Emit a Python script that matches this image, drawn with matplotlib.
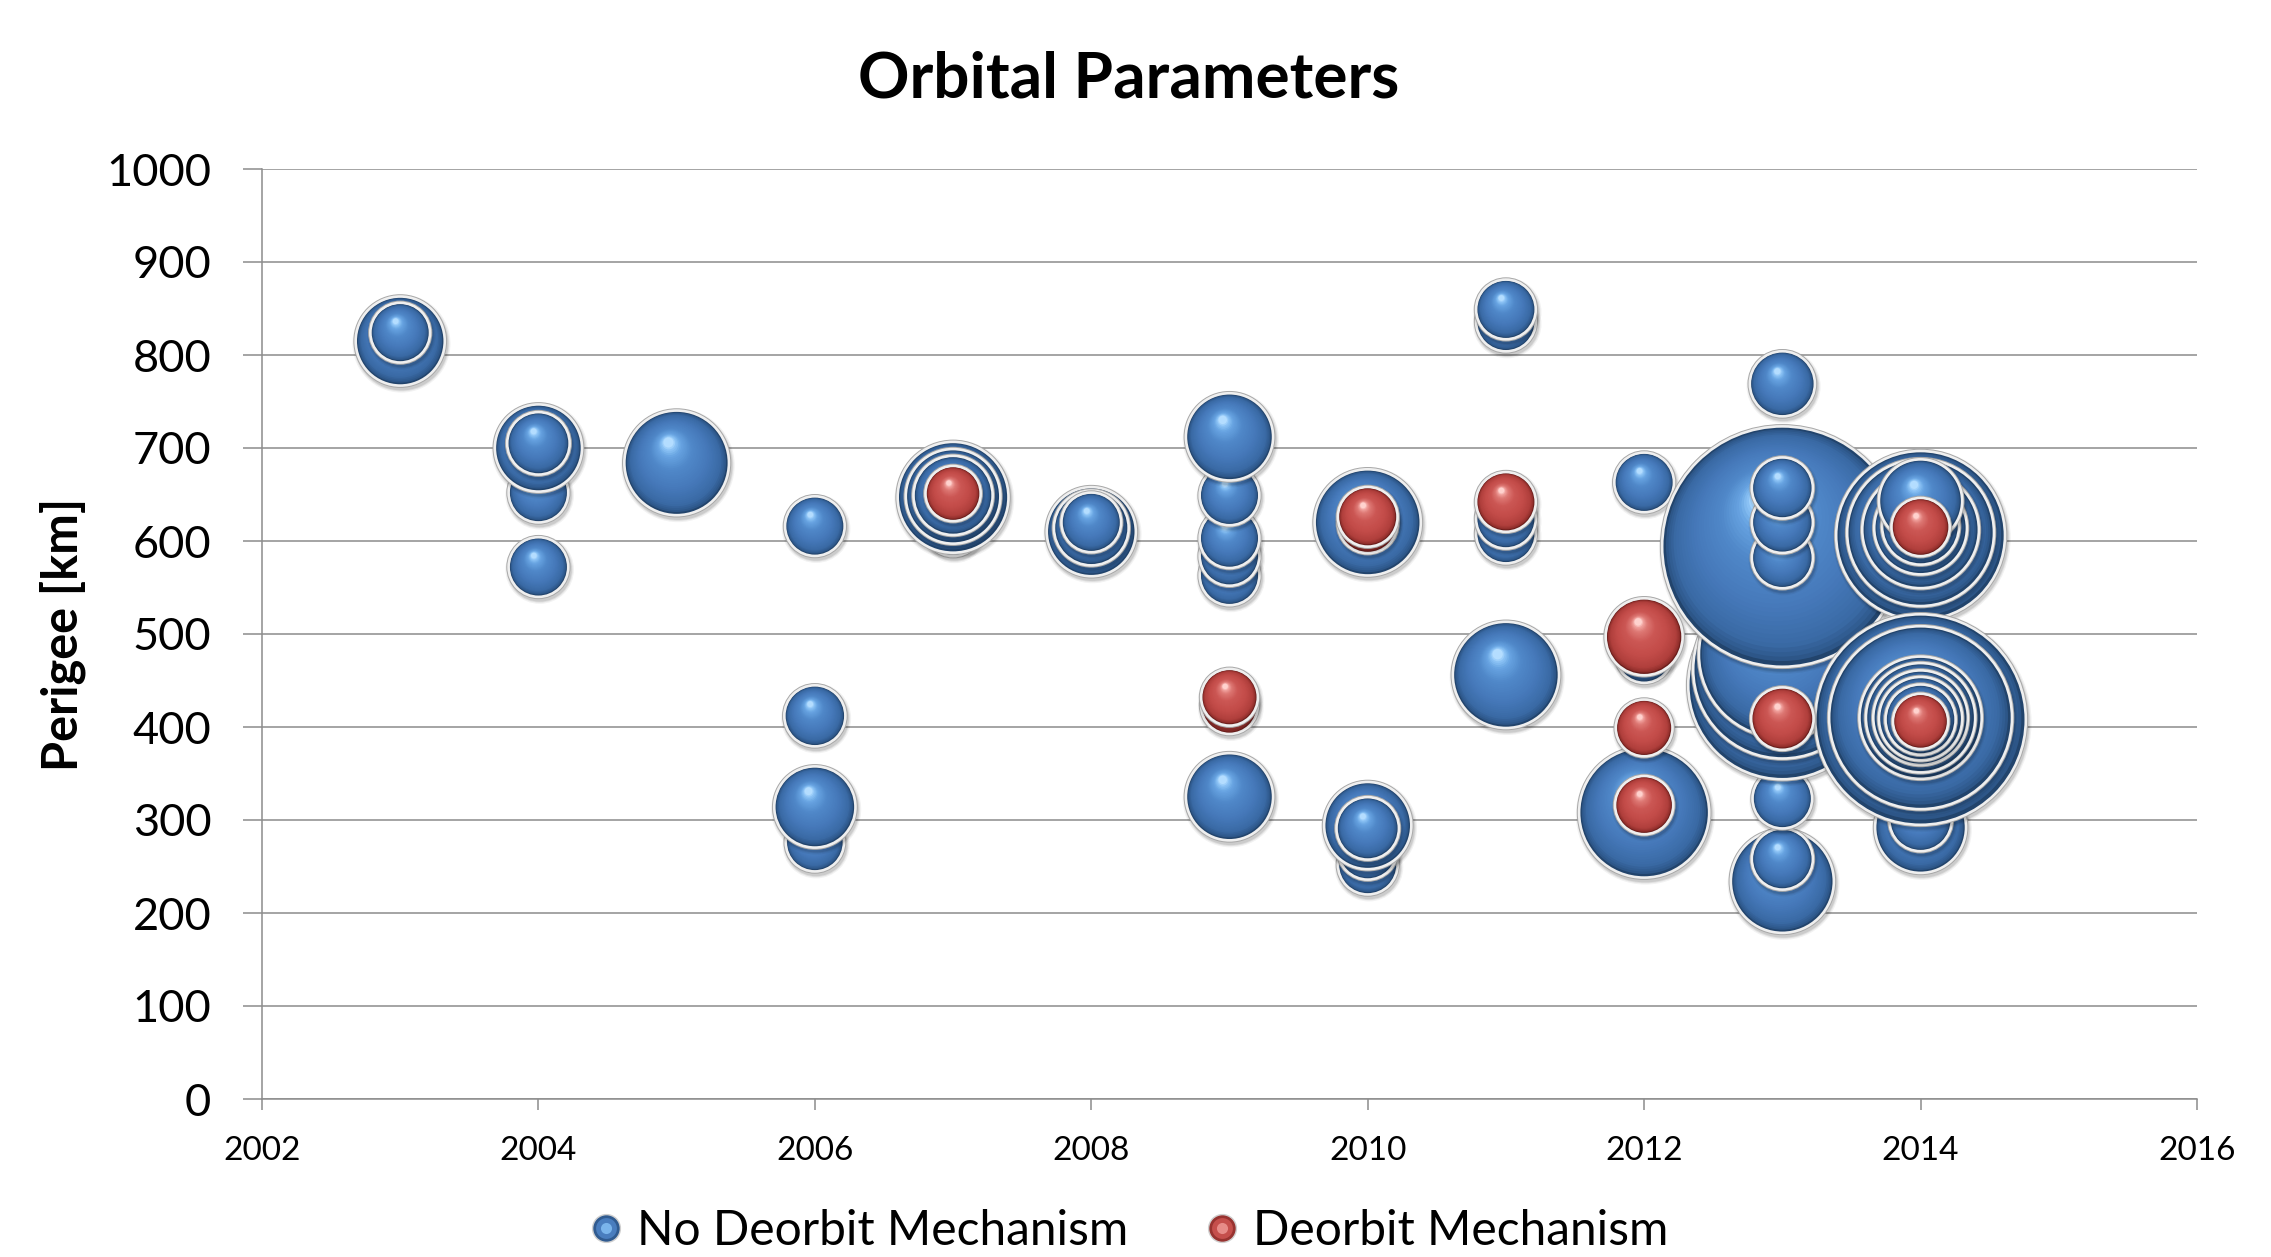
import numpy as np
import matplotlib
matplotlib.use("Agg")
import matplotlib.pyplot as plt
import matplotlib.transforms as mtransforms
from matplotlib.colors import LinearSegmentedColormap, to_rgba
from matplotlib.lines import Line2D
from matplotlib.legend_handler import HandlerTuple

plt.rcParams['font.family'] = ['Lato', 'DejaVu Sans']

# ---------------- data ----------------
title = "Orbital Parameters"
y_label = "Perigee [km]"
series_names = ["No Deorbit Mechanism", "Deorbit Mechanism"]
x_ticks = [2002, 2004, 2006, 2008, 2010, 2012, 2014, 2016]
y_ticks = [0, 100, 200, 300, 400, 500, 600, 700, 800, 900, 1000]

# listed in drawing order (later entries are drawn on top)
blue_year = [2003, 2003,
             2004, 2004, 2004, 2004,
             2005,
             2006, 2006, 2006, 2006,
             2007, 2007, 2007, 2007,
             2008, 2008, 2008,
             2009, 2009, 2009, 2009, 2009, 2009,
             2010, 2010, 2010, 2010, 2010,
             2011, 2011, 2011, 2011, 2011,
             2012, 2012, 2012,
             2013, 2013, 2013, 2013, 2013, 2013, 2013, 2013, 2013, 2013, 2013,
             2014, 2014,
             2014, 2014, 2014, 2014, 2014, 2014,
             2014, 2014, 2014, 2014, 2014, 2014, 2014]
blue_perigee = [815, 824,
                572, 652, 700, 705,
                684,
                616, 412, 276, 314,
                615, 647, 648, 649,
                610, 614, 620,
                325, 563, 584, 603, 649, 712,
                252, 268, 294, 291, 620,
                456, 608, 624, 836, 849,
                308, 478, 663,
                234, 258, 323, 445, 462, 478, 594, 582, 620, 657, 769,
                292, 300,
                606, 609, 612, 614, 616, 643,
                408, 410, 410, 410, 410, 409, 408]
blue_size = [2.3, 1.0,
             1.0, 1.0, 2.2, 1.1,
             3.2,
             1.0, 1.05, 0.95, 1.9,
             0.95, 3.6, 2.6, 1.8,
             2.3, 1.6, 1.0,
             2.2, 1.0, 1.0, 1.0, 1.0, 2.2,
             1.0, 1.0, 2.2, 1.1, 3.3,
             3.3, 1.0, 1.0, 1.0, 1.0,
             5.0, 0.9, 1.0,
             3.1, 1.05, 1.0, 10.6, 9.5, 8.3, 17.4, 1.05, 1.05, 1.05, 1.2,
             2.4, 1.1,
             8.5, 6.4, 4.0, 2.5, 1.7, 2.0,
             13.3, 10.0, 4.4, 3.5, 2.6, 2.0, 1.4]

red_year = [2007, 2009, 2009, 2010, 2010, 2011, 2012, 2012, 2012, 2013, 2014, 2014]
red_perigee = [651, 423, 432, 619, 626, 642, 316, 399, 497, 409, 615, 406]
red_size = [0.85, 0.9, 0.9, 1.0, 1.0, 1.0, 0.95, 0.9, 1.7, 1.1, 0.95, 0.85]

# ---------------- figure ----------------
W, H, DPI = 2271, 1257, 100
fig = plt.figure(figsize=(W / DPI, H / DPI), dpi=DPI)
fig.patch.set_facecolor("white")
ax = fig.add_axes([262 / W, 1 - 1099 / H, (2197 - 262) / W, (1099 - 169) / H])
ax.set_xlim(2002, 2016)
ax.set_ylim(0, 1000)
ax.set_autoscale_on(False)

grid_col = "#8c8c8c"
ax.set_xticks(x_ticks)
ax.set_yticks(y_ticks)
ax.set_xticklabels([str(v) for v in x_ticks], fontsize=24)
ax.set_yticklabels([str(v) for v in y_ticks], fontsize=32.5)
ax.yaxis.grid(True, color=grid_col, linewidth=1.1)
ax.set_axisbelow(True)
for s in ["top", "right"]:
    ax.spines[s].set_visible(False)
for s in ["left", "bottom"]:
    ax.spines[s].set_color(grid_col)
    ax.spines[s].set_linewidth(1.1)
ax.tick_params(axis="y", length=13.5, width=1.1, color=grid_col, pad=23)
ax.tick_params(axis="x", length=8, width=1.1, color=grid_col, pad=19)

ax.set_ylabel(y_label, fontsize=35, fontweight="bold")
ax.yaxis.set_label_coords(-0.091, 0.5)
fig.text(1129 / W, 1 - 97 / H, title, ha="center", va="baseline",
         fontsize=46, fontweight="bold")

# ---------------- 3D-look bubbles ----------------
blue_ramp = LinearSegmentedColormap.from_list("b", [
    (0.0, "#22446c"), (0.03, "#2e588b"), (0.12, "#3a6aa5"), (0.35, "#4578b9"),
    (0.65, "#5088c9"), (0.85, "#67a3e1"), (0.95, "#8cc3f5"), (1.0, "#b4ddff")])
red_ramp = LinearSegmentedColormap.from_list("r", [
    (0.0, "#6a1d1b"), (0.03, "#93302d"), (0.12, "#b03f3c"), (0.35, "#c24b48"),
    (0.65, "#cc5754"), (0.85, "#dd7773"), (0.95, "#f0a09c"), (1.0, "#ffd2ce")])

R1_PT = 28.5 * 72 / DPI     # radius (pt) of a size-1 bubble
HX, HY = -0.16, 0.40        # highlight direction
NLAY = 36


def sphere(x, y, size, ramp, z):
    R = R1_PT * np.sqrt(size)
    ox, oy, ss, cc = [], [], [], []
    for grow, a in [(4.2, 0.05), (3.3, 0.07), (2.6, 0.09)]:
        ox.append(0.9); oy.append(-1.8); ss.append((2 * (R + grow)) ** 2); cc.append((0, 0, 0, a))
    ox.append(0); oy.append(0); ss.append((2 * (R + 2.6)) ** 2); cc.append(to_rgba("#a8a8a8"))
    ox.append(0); oy.append(0); ss.append((2 * (R + 1.9)) ** 2); cc.append(to_rgba("#efefef"))
    for i in range(NLAY):
        t = i / (NLAY - 1)
        f = 1 - 0.9 * t
        ox.append(HX * R * t); oy.append(HY * R * t)
        ss.append((2 * R * f) ** 2); cc.append(ramp(t))
    tr = fig.dpi_scale_trans + mtransforms.ScaledTranslation(x, y, ax.transData)
    ax.scatter(np.array(ox) / 72, np.array(oy) / 72, s=ss, c=cc, linewidths=0,
               transform=tr, zorder=z, clip_on=False)


z = 3
for xv, yv, sv in zip(blue_year, blue_perigee, blue_size):
    sphere(xv, yv, sv, blue_ramp, z)
for xv, yv, sv in zip(red_year, red_perigee, red_size):
    sphere(xv, yv, sv, red_ramp, z)

# ---------------- legend ----------------
def leg_handle(ramp):
    return (Line2D([], [], ls="none", marker="o", ms=20, mfc=ramp(0.05), mec="#cfcfcf", mew=1.0),
            Line2D([], [], ls="none", marker="o", ms=15, mfc=ramp(0.45), mew=0),
            Line2D([], [], ls="none", marker="o", ms=8, mfc=ramp(0.9), mew=0))

fig.legend([leg_handle(blue_ramp), leg_handle(red_ramp)], series_names,
           handler_map={tuple: HandlerTuple(ndivide=1)},
           loc="center", bbox_to_anchor=(0.497, 0.021), ncol=2, frameon=False,
           fontsize=34.5, handlelength=0.7, handletextpad=0.3, columnspacing=1.6)

fig.savefig("out.png", dpi=DPI, facecolor="white")
